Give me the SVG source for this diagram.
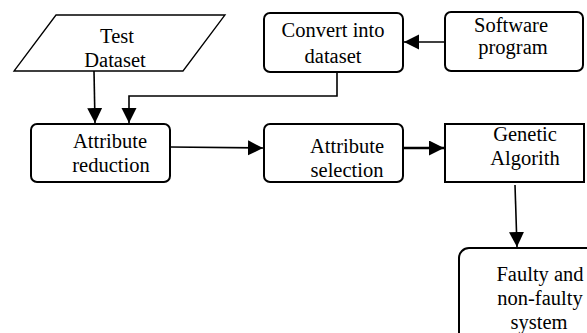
<svg xmlns="http://www.w3.org/2000/svg" width="587" height="333" viewBox="0 0 587 333">
<style>
.box{fill:#fff;stroke:#000;stroke-width:2}
.t{font-family:"Liberation Serif","Times New Roman",serif;font-size:20.5px;fill:#000;text-anchor:middle}
.c{fill:none;stroke:#000;stroke-width:1.6}
</style>
<defs>
<marker id="ah" markerUnits="userSpaceOnUse" markerWidth="16" markerHeight="16" refX="15" refY="7.5" orient="auto">
<path d="M0,0 L15,7.5 L0,15 z" fill="#000"/>
</marker>
</defs>
<rect width="587" height="333" fill="#fff"/>
<g id="connectors">
<line class="c" x1="94" y1="71" x2="95" y2="123" marker-end="url(#ah)"/>
<polyline class="c" points="337,72 337,96 129,96 129,123" marker-end="url(#ah)"/>
<line class="c" x1="445" y1="42" x2="404" y2="42" marker-end="url(#ah)"/>
<line class="c" x1="170" y1="147" x2="263" y2="148" marker-end="url(#ah)"/>
<line class="c" style="stroke-width:2.4" x1="403" y1="148" x2="444" y2="148" marker-end="url(#ah)"/>
<line class="c" x1="515" y1="185" x2="517" y2="247" marker-end="url(#ah)"/>
</g>
<g id="test-dataset">
<polygon class="box" style="stroke-width:1.3" points="56,15 225,15 183,71 14,71"/>
<text class="t" x="117" y="43">Test</text>
<text class="t" x="115" y="67">Dataset</text>
</g>
<g id="convert">
<rect class="box" x="264" y="13" width="139" height="59" rx="6"/>
<text class="t" x="333" y="37">Convert into</text>
<text class="t" x="333" y="63">dataset</text>
</g>
<g id="software">
<rect class="box" x="445" y="12" width="138" height="59" rx="6"/>
<text class="t" x="511" y="32">Software</text>
<text class="t" x="513" y="54">program</text>
</g>
<g id="reduction">
<rect class="box" x="31" y="124" width="139" height="58" rx="6"/>
<text class="t" x="110" y="148">Attribute</text>
<text class="t" x="111" y="172">reduction</text>
</g>
<g id="selection">
<rect class="box" x="264" y="124" width="139" height="58" rx="6"/>
<text class="t" x="347" y="153">Attribute</text>
<text class="t" x="347" y="177">selection</text>
</g>
<g id="genetic">
<rect class="box" x="445" y="124" width="139" height="58"/>
<text class="t" x="525" y="141">Genetic</text>
<text class="t" x="525" y="165">Algorith</text>
</g>
<g id="faulty">
<rect class="box" x="459" y="248" width="140" height="100" rx="10"/>
<text class="t" x="540" y="281">Faulty and</text>
<text class="t" x="540" y="305">non-faulty</text>
<text class="t" x="539" y="329">system</text>
</g>
</svg>
